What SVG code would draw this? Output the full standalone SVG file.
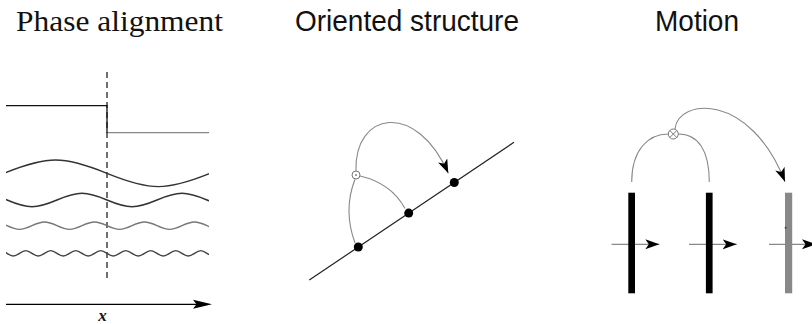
<svg xmlns="http://www.w3.org/2000/svg" width="812" height="324" viewBox="0 0 812 324">
<style>
.title{font-size:29px;fill:#111}
.serif{font-family:"Liberation Serif","DejaVu Serif",serif}
.sans{font-family:"Liberation Sans","DejaVu Sans",sans-serif}
.wave{fill:none;stroke-width:1.4}
.arc{fill:none;stroke:#888;stroke-width:1.1}
.dot{fill:#000}
.bar{fill:#000}
.mline{stroke:#888;stroke-width:1.3}
</style>
<defs>
<clipPath id="clipWaves"><rect x="6" y="140" width="203" height="130"/></clipPath>
<marker id="head" markerUnits="userSpaceOnUse" markerWidth="16" markerHeight="12" refX="14" refY="5" orient="auto">
<path d="M0,0 L14,5 L0,10 L3.5,5 z" fill="#000"/>
</marker>
</defs>

<g id="titles">
<text id="t-phase" class="title serif" x="16" y="31" textLength="207" lengthAdjust="spacingAndGlyphs">Phase alignment</text>
<text id="t-oriented" class="title sans" x="295" y="31" textLength="224" lengthAdjust="spacingAndGlyphs">Oriented structure</text>
<text id="t-motion" class="title sans" x="655" y="31" textLength="84" lengthAdjust="spacingAndGlyphs">Motion</text>
</g>

<g id="phase-panel">
<path id="step-left" d="M6 105.7 H107 V132.7" fill="none" stroke="#111" stroke-width="1.3"/>
<path id="step-right" d="M107 132.7 H209" fill="none" stroke="#888" stroke-width="1.3"/>
<line id="edge" x1="107" y1="72" x2="107" y2="282" stroke="#111" stroke-width="1.2" stroke-dasharray="6 4"/>
<g clip-path="url(#clipWaves)">
<path id="wave1" class="wave" stroke="#333" d="M4 173.3 C47.7 155.6 63.3 155.6 107 173.3 S166.3 191 210 173.3 S269.3 155.6 313 173.3"/>
<path id="wave2" class="wave" stroke="#333" d="M-43 200 C-21.8 191.07 -14.2 191.07 7 200 S35.8 208.93 57 200 S85.8 191.07 107 200 S135.8 208.93 157 200 S185.8 191.07 207 200 S235.8 208.93 257 200"/>
<path id="wave3" class="wave" stroke="#777" d="M-18 225.7 C-7.4 220.77 -3.6 220.77 7 225.7 S21.4 230.63 32 225.7 S46.4 220.77 57 225.7 S71.4 230.63 82 225.7 S96.4 220.77 107 225.7 S121.4 230.63 132 225.7 S146.4 220.77 157 225.7 S171.4 230.63 182 225.7 S196.4 220.77 207 225.7 S221.4 230.63 232 225.7"/>
<path id="wave4" class="wave" stroke="#444" d="M-5.5 253.3 C-0.2 249.7 1.7 249.7 7 253.3 S14.2 256.9 19.5 253.3 S26.7 249.7 32 253.3 S39.2 256.9 44.5 253.3 S51.7 249.7 57 253.3 S64.2 256.9 69.5 253.3 S76.7 249.7 82 253.3 S89.2 256.9 94.5 253.3 S101.7 249.7 107 253.3 S114.2 256.9 119.5 253.3 S126.7 249.7 132 253.3 S139.2 256.9 144.5 253.3 S151.7 249.7 157 253.3 S164.2 256.9 169.5 253.3 S176.7 249.7 182 253.3 S189.2 256.9 194.5 253.3 S201.7 249.7 207 253.3 S214.2 256.9 219.5 253.3"/>
</g>
<line id="x-axis" x1="6" y1="304.3" x2="198" y2="304.3" stroke="#000" stroke-width="1.3"/>
<path id="x-axis-head" d="M212 304.3 L193 299.8 L196.5 304.3 L193 308.8 z" fill="#000"/>
<text id="x-label" x="102.5" y="320.5" text-anchor="middle" font-family="Liberation Serif, serif" font-style="italic" font-weight="bold" font-size="17" fill="#111">x</text>
</g>

<g id="oriented-panel">
<line id="orient-line" x1="309.3" y1="280" x2="514" y2="142.3" stroke="#222" stroke-width="1.2"/>
<circle id="p1" class="dot" cx="358.3" cy="247" r="4.5"/>
<circle id="p2" class="dot" cx="408.7" cy="213.1" r="4.5"/>
<circle id="p3" class="dot" cx="454.3" cy="182.5" r="4.5"/>
<g id="odot">
<circle cx="356" cy="175" r="4" fill="#fff" stroke="#777" stroke-width="1"/>
<circle cx="356" cy="175" r="0.9" fill="#777"/>
</g>
</g>

<g id="motion-panel">
<line class="mline" x1="611.6" y1="244.3" x2="659.3" y2="244.3" marker-end="url(#head)"/>
<line class="mline" x1="689" y1="244.3" x2="736.7" y2="244.3" marker-end="url(#head)"/>
<line class="mline" x1="769" y1="244.3" x2="816" y2="244.3" marker-end="url(#head)"/>
<rect id="bar1" class="bar" x="628.3" y="192.7" width="6.7" height="100.6"/>
<rect id="bar2" class="bar" x="705.9" y="192.7" width="6.7" height="100.6"/>
<rect id="bar3" x="785" y="192.7" width="7.2" height="100.6" fill="#888"/>
<circle cx="785.6" cy="227.7" r="0.9" fill="#333"/>
<g id="otimes">
<circle cx="673.3" cy="134" r="5" fill="#fff" stroke="#777" stroke-width="1"/>
<path d="M669.8 130.5 L676.8 137.5 M676.8 130.5 L669.8 137.5" stroke="#777" stroke-width="1"/>
</g>
</g>

<g id="connectors">
<path class="arc" d="M355 243 Q343 210 355 179.2"/>
<path class="arc" d="M360 176 Q391 183 405 208.5"/>
<path class="arc" d="M356 171 C354 112 416 100 448.3 173.3" marker-end="url(#head)"/>
<path class="arc" d="M631.7 182 C631.7 150 648 134 668.3 134"/>
<path class="arc" d="M678.3 134 C698 134 709.3 150 709.3 182"/>
<path class="arc" d="M675 129 C678 98 750 92 785 181.7" marker-end="url(#head)"/>
</g>
</svg>
